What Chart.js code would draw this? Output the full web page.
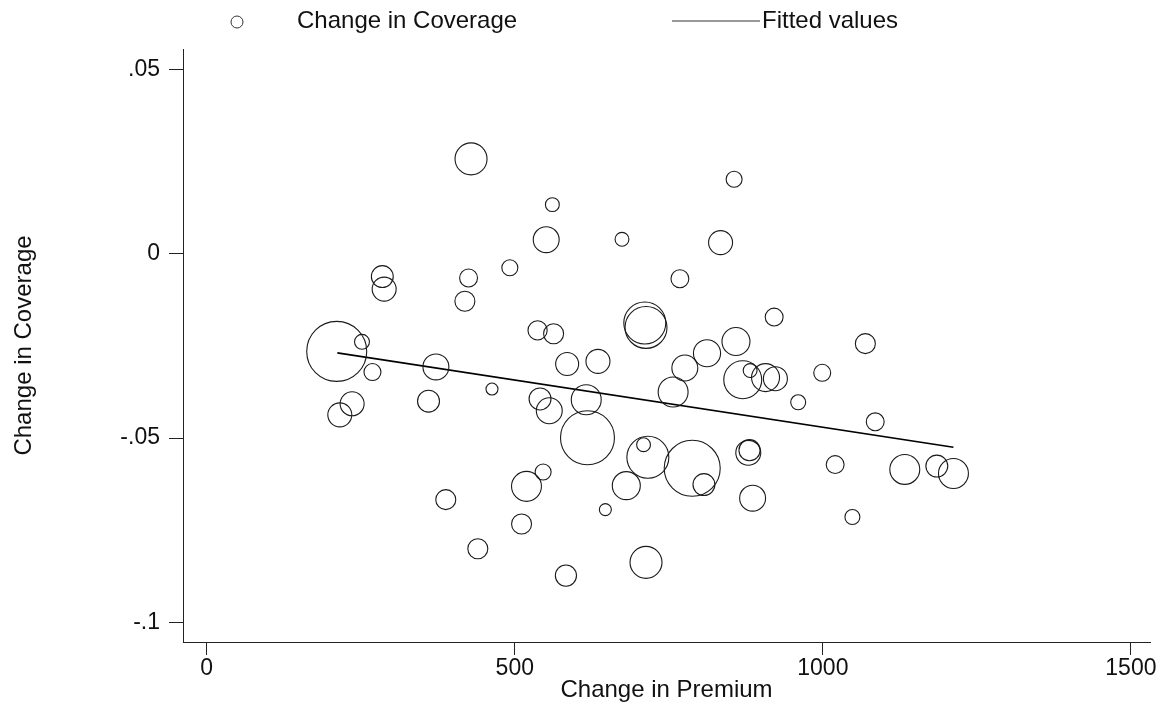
<!DOCTYPE html>
<html>
<head>
<meta charset="utf-8">
<title>Change in Coverage vs Change in Premium</title>
<script src="https://cdn.jsdelivr.net/npm/chart.js@4.4.1/dist/chart.umd.min.js"></script>
<style>
  html, body { margin: 0; padding: 0; background: #fff; }
  #wrap { width: 1160px; height: 708px; }
</style>
</head>
<body>
<div id="wrap"><canvas id="myChart" width="1160" height="708"></canvas></div>
<script>
// bubbles: change in premium (x), change in coverage (y), weight (bubble area)
const premium = [429, 285, 288, 425, 492, 419, 211, 252, 269, 372, 463, 236, 216, 360,
  561, 551, 674, 834, 768, 711, 713, 921, 537, 563, 859, 812, 776, 585, 635, 870,
  882, 907, 923, 999, 960, 757, 616, 541, 556, 618, 716, 709, 788, 881, 879, 546,
  519, 681, 647, 388, 511, 440, 583, 713,
  1085, 807, 886, 1020, 1048, 1133, 1185, 1212, 856, 1069]
const coverage = [0.0257, -0.0062, -0.0096, -0.0066, -0.0038, -0.0129, -0.0265, -0.0239, -0.0321, -0.0307, -0.0367, -0.0407, -0.0437, -0.0400,
  0.0133, 0.0038, 0.0039, 0.0030, -0.0068, -0.0188, -0.0200, -0.0172, -0.0208, -0.0217, -0.0238, -0.0270, -0.0310, -0.0299, -0.0292, -0.0342,
  -0.0317, -0.0336, -0.0339, -0.0323, -0.0403, -0.0375, -0.0396, -0.0394, -0.0426, -0.0499, -0.0552, -0.0518, -0.0582, -0.0533, -0.0540, -0.0592,
  -0.0631, -0.0629, -0.0694, -0.0667, -0.0733, -0.0800, -0.0873, -0.0837,
  -0.0456, -0.0626, -0.0663, -0.0572, -0.0714, -0.0585, -0.0576, -0.0596, 0.0202, -0.0244]
const weight = [64, 30, 36, 20, 16, 25, 225, 14, 18, 42, 9, 36, 36, 30,
  12, 42, 12, 36, 20, 110, 110, 20, 23, 25, 49, 46, 42, 33, 36, 90,
  12, 49, 36, 18, 14, 56, 56, 30, 42, 182, 110, 12, 196, 28, 39, 16,
  56, 49, 9, 25, 25, 25, 28, 64,
  20, 30, 42, 20, 14, 56, 30, 56, 16, 25]

// fitted values
const fitX = [212, 1212]
const fitY = [-0.0269, -0.0525]

// ticks
const xTicks = [0, 500, 1000, 1500]
const xTickLabels = ['0', '500', '1000', '1500']
const yTicks = [-0.1, -0.05, 0, 0.05]
const yTickLabels = ['-.1', '-.05', '0', '.05']

Chart.defaults.font.family = '"Liberation Sans", Arial, Helvetica, sans-serif'
Chart.defaults.color = '#111'

const stataLegend = {
  id: 'stataLegend',
  afterDraw(chart) {
    const ctx = chart.ctx
    ctx.save()
    ctx.font = '24px "Liberation Sans", Arial, sans-serif'
    ctx.fillStyle = '#111'
    ctx.textBaseline = 'middle'
    ctx.strokeStyle = '#333'
    ctx.lineWidth = 1
    ctx.beginPath()
    ctx.arc(237, 22, 6, 0, Math.PI * 2)
    ctx.stroke()
    ctx.fillText(chart.data.datasets[0].label, 297, 21)
    ctx.beginPath()
    ctx.moveTo(672, 21)
    ctx.lineTo(760, 21)
    ctx.stroke()
    ctx.fillText(chart.data.datasets[1].label, 762, 21)
    ctx.restore()
  }
}

const ctx = document.getElementById('myChart')
const myChart = new Chart(ctx, {
  type: 'bubble',
  data: {
    datasets: [{
      label: 'Change in Coverage',
      data: premium.map((x, i) => ({ x: x, y: coverage[i], r: 2 * Math.sqrt(weight[i]) })),
      backgroundColor: 'rgba(0,0,0,0)',
      borderColor: '#1a1a1a',
      borderWidth: 1.1
    }, {
      type: 'line',
      label: 'Fitted values',
      data: fitX.map((x, i) => ({ x: x, y: fitY[i] })),
      borderColor: '#000',
      borderWidth: 1.7,
      pointRadius: 0,
      fill: false
    }]
  },
  options: {
    responsive: false,
    animation: false,
    events: [],
    layout: { autoPadding: false, padding: { top: 49, left: 0, right: 10, bottom: 3.6 } },
    plugins: {
      legend: { display: false },
      tooltip: { enabled: false }
    },
    scales: {
      x: {
        type: 'linear',
        min: -38.5,
        max: 1531,
        afterBuildTicks: (axis) => { axis.ticks = xTicks.map(v => ({ value: v })) },
        afterFit: (s) => {
          s.height = 62.4
          s.paddingLeft = 0
          s.paddingRight = 0
        },
        ticks: {
          font: { size: 23 },
          color: '#111',
          padding: 0,
          maxRotation: 0,
          callback: (value, index) => xTickLabels[index]
        },
        grid: { display: true, drawOnChartArea: false, drawTicks: true, tickLength: 13, color: '#222' },
        border: { display: true, color: '#222', width: 1 },
        title: { display: true, text: 'Change in Premium', font: { size: 24 }, color: '#111', padding: { top: 0, bottom: 0 } }
      },
      y: {
        type: 'linear',
        min: -0.1053,
        max: 0.0555,
        afterBuildTicks: (axis) => { axis.ticks = yTicks.map(v => ({ value: v })) },
        afterFit: (s) => {
          s.width = 183
          s.paddingTop = 0
          s.paddingBottom = 0
        },
        ticks: {
          font: { size: 23 },
          color: '#111',
          padding: 9,
          callback: (value, index) => yTickLabels[index]
        },
        grid: { display: true, drawOnChartArea: false, drawTicks: true, tickLength: 14, color: '#222' },
        border: { display: true, color: '#222', width: 1 },
        title: { display: true, text: 'Change in Coverage', font: { size: 24 }, color: '#111', padding: { top: 10, bottom: 0 } }
      }
    }
  },
  plugins: [stataLegend]
})
</script>
</body>
</html>
